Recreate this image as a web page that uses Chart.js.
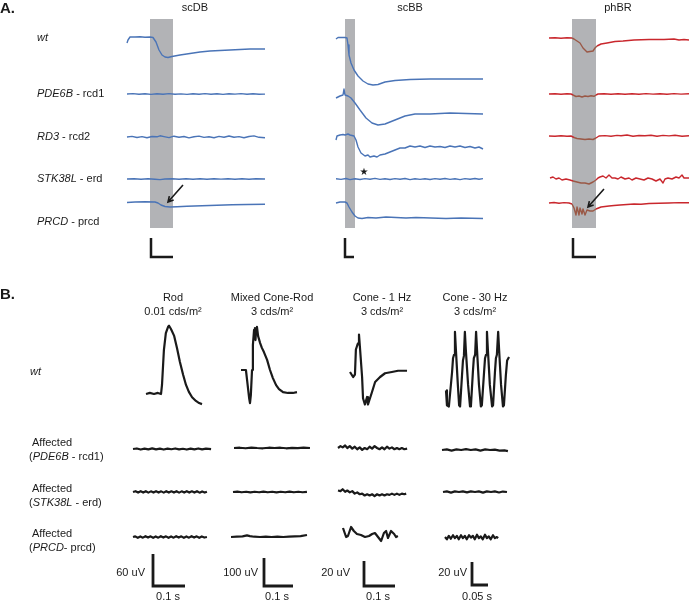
<!DOCTYPE html>
<html>
<head>
<meta charset="utf-8">
<script src="https://cdn.jsdelivr.net/npm/chart.js@4.4.0/dist/chart.umd.min.js"></script>
<style>
html,body{margin:0;padding:0;background:#fff;}
#wrap{width:689px;height:601px;}
</style>
</head>
<body>
<div id="wrap"><canvas id="myChart" width="689" height="601"></canvas></div>
<script>
// ---- panel A waveforms: [time, amplitude] (arbitrary units, 1 unit per px) ----
var scdbWt   = [[0,-5],[1,-2],[3,1],[8,1],[13,1.2],[18,0.8],[23,1],[26,0.5],[29,-4],[32,-12],[35,-17],[38,-19],[41,-19.5],[45,-18.5],[53,-17],[63,-15.5],[73,-14],[83,-13],[93,-12.5],[103,-12],[113,-11.5],[123,-11],[138,-11]];
var scdbRcd1 = [[0,0],[6,0.4],[12,-0.3],[18,0.3],[24,-0.4],[30,0.2],[36,-0.2],[42,0.4],[48,-0.3],[54,0.1],[60,-0.4],[66,0.3],[72,-0.2],[78,0.4],[84,-0.3],[90,0.2],[96,-0.4],[102,0.3],[108,-0.1],[114,0.4],[120,-0.3],[126,0.2],[132,-0.3],[138,-0.1]];
var scdbRcd2 = [[0,0],[5,0.6],[10,-0.5],[15,0.4],[20,-0.8],[25,0.5],[30,0.2],[33,1.2],[37,0.4],[42,-0.6],[47,0.8],[52,-0.2],[57,0.5],[62,-0.9],[67,0.3],[72,0.9],[77,-0.4],[82,0.2],[87,-0.7],[92,0.6],[97,-0.3],[102,1],[107,-0.2],[112,0.4],[117,-0.8],[122,0.5],[127,1.1],[132,-0.3],[138,-0.8]];
var scdbErd  = [[0,0],[7,0.3],[14,-0.2],[21,0.2],[28,-0.3],[33,-0.6],[38,0],[45,0.3],[52,-0.2],[59,0.2],[66,-0.3],[73,0.2],[80,-0.2],[87,0.3],[94,-0.1],[101,0.2],[108,-0.3],[115,0.2],[122,-0.2],[129,0.3],[138,0]];
var scdbPrcd = [[0,-0.5],[8,0],[18,0.3],[28,0],[31,-1],[34,-3],[38,-4.5],[43,-5],[50,-4.7],[60,-4.2],[75,-3.8],[90,-3.2],[105,-2.8],[120,-2.5],[138,-2.3]];

var scbbWt   = [[0,-1],[2,0.5],[9,0.5],[11,0],[12,-7],[13,-17],[15,-25],[18,-32],[22,-38],[27,-43],[32,-46],[37,-47],[42,-46.5],[49,-44],[59,-42.5],[74,-41.5],[94,-41],[124,-41],[147,-41]];
var scbbRcd1 = [[0,0],[4,2],[7,3],[8,9],[9,3],[12,2],[15,0],[19,-5],[24,-12],[30,-20],[36,-25],[42,-27],[49,-26],[59,-22],[69,-18],[79,-16],[94,-16],[114,-15],[130,-15.5],[147,-16]];
var scbbRcd2 = [[0,0],[1,4],[4,5],[7,5.5],[9,5],[12,6],[14,5],[18,4],[20,0],[22,-7],[25,-13],[29,-16],[32,-15],[34,-17],[38,-16],[41,-17],[44,-15],[49,-14],[54,-12],[59,-10],[64,-8],[69,-8],[74,-6],[79,-7],[84,-6],[89,-7.5],[94,-6],[99,-7],[104,-6.5],[109,-7.5],[114,-6],[119,-7],[124,-6],[129,-7.5],[134,-6.5],[139,-8],[143,-7],[147,-9]];
var scbbErd  = [[0,0.2],[5,-0.4],[10,0.5],[14,-0.6],[19,0.3],[24,-0.5],[29,0.4],[34,-0.3],[39,0.6],[44,-0.4],[49,0.2],[54,-0.5],[59,0.4],[64,-0.2],[69,0.5],[74,-0.6],[79,0.3],[84,-0.4],[89,0.2],[94,-0.5],[99,0.4],[104,-0.3],[109,0.5],[114,-0.4],[119,0.2],[124,-0.6],[129,0.4],[134,-0.3],[139,0.5],[143,-0.2],[147,0.4]];
var scbbPrcd = [[0,0],[4,1],[9,1],[11,0],[13,-4],[16,-9],[19,-13],[22,-15],[26,-15.5],[32,-14.5],[40,-15],[50,-14],[60,-14.5],[70,-15],[80,-14.5],[95,-15],[110,-15.5],[125,-15],[147,-15.5]];

var phbrWt   = [[0,0],[6,0.3],[12,-0.2],[18,0.2],[23,0],[25,-1],[28,-3],[31,-5],[34,-10],[36,-12],[38,-14],[41,-13.5],[44,-13],[46,-10],[48,-8],[52,-6],[58,-5],[66,-3.5],[74,-3],[85,-2],[100,-1.5],[115,-1.5],[125,-1],[130,-2],[135,-1.5],[140,-2]];
var phbrRcd1 = [[0,0],[6,0.3],[12,-0.3],[18,0.2],[22,0],[24,-1],[27,-2.5],[30,-2],[33,-3],[36,-2],[39,-2.5],[42,-1.8],[45,-2.3],[47,-1],[49,0],[55,0.3],[62,-0.2],[69,0.3],[76,-0.2],[83,0.2],[90,-0.3],[97,0.4],[104,-0.1],[111,0.3],[118,-0.2],[125,0.4],[132,-0.1],[140,0.2]];
var phbrRcd2 = [[0,0],[6,-0.3],[12,0.3],[18,-0.2],[22,0],[25,-1.5],[28,-2.5],[32,-3],[36,-3.5],[40,-3],[44,-3.5],[47,-2],[50,0],[56,0.4],[62,-0.3],[68,0.6],[72,0.2],[78,1],[84,-0.2],[90,0.5],[96,0.2],[102,0.8],[108,-0.3],[114,0.6],[120,0.1],[126,0.7],[133,-0.2],[140,0.3]];
var phbrErd  = [[1,1],[4,2],[7,0],[10,1],[13,-1],[17,0],[21,-1],[24,-2],[28,-3],[32,-4],[36,-4],[40,-5],[44,-3],[47,-1],[49,1],[51,2],[54,3],[57,1],[60,4],[63,1],[66,1],[69,0],[72,2],[76,0],[80,1],[83,-1],[87,1],[91,0],[95,-1],[99,1],[103,0],[107,-2],[111,0],[114,-4],[116,0],[119,1],[123,0],[127,2],[130,1],[133,4],[135,1],[140,1]];
var phbrPrcd = [[0,0],[5,0.5],[10,-0.3],[15,0.4],[20,0],[23,-1],[25,-5],[27,-12],[28,-4],[30,-12],[31,-5],[33,-11],[34,-6],[36,-12],[38,-7],[41,-8],[44,-8],[47,-6],[52,-4],[56,-3.5],[60,-3],[65,-2.5],[71,-2],[78,-1.5],[85,-1],[92,-1.2],[100,-0.5],[110,-0.3],[120,0],[130,0.4],[140,0.3]];

// ---- panel B waveforms: [ms, uV] ----
var rodWt    = [[0,0],[12,2],[25,0],[37,2],[47,0],[50,17],[56,83],[62,114],[69,126],[72,128],[78,122],[88,109],[97,86],[106,60],[116,36],[125,17],[134,4],[144,-6],[156,-13],[166,-17],[175,-19]];
var mixedWt  = [[0,0],[17,0],[21,-36],[28,-100],[31,-118],[34,-89],[38,0],[41,89],[45,143],[48,150],[50,107],[52,143],[55,154],[59,121],[66,96],[72,79],[79,64],[90,36],[100,0],[110,-29],[121,-54],[131,-68],[145,-79],[162,-82],[179,-82],[193,-79]];
var cone1Wt  = [[0,0],[10,-4],[16,-2],[19,18],[23,21],[26,23],[29,30],[32,20],[39,-4],[42,-21],[48,-26],[55,-20],[58,-26],[71,-16],[81,-8],[97,-4],[113,-1],[135,0],[155,1],[184,1]];
var cone30Wt = [[0,-16],[3,-29],[9,-30],[19,0],[22,12],[25,15],[28,35],[31,19],[37,-11],[41,-29],[44,-30],[50,-3],[53,10],[56,14],[59,35],[62,19],[69,-11],[75,-30],[78,-29],[84,0],[87,12],[91,15],[94,35],[97,19],[103,-11],[109,-30],[112,-29],[119,0],[122,12],[125,15],[128,35],[131,19],[137,-11],[144,-30],[147,-29],[153,0],[156,12],[159,15],[163,35],[166,19],[172,-11],[178,-30],[181,-29],[187,-3],[191,10],[197,13]];

var rodRcd1  = [[0,0],[12,1],[24,-1],[36,0.8],[48,-0.6],[60,1.2],[72,-0.8],[84,0.6],[96,-1],[108,0.8],[120,-0.5],[132,1],[144,-0.8],[156,0.5],[168,-1],[180,0.8],[192,-0.6],[204,1],[216,-0.8],[228,0.6],[244,-0.4]];
var rodErd   = [[0,0],[8,1.5],[16,-1],[24,1.5],[32,-1],[40,1.5],[48,-1.2],[56,1.2],[64,-1],[72,1.5],[80,-1],[88,1.2],[96,-1.2],[104,1.5],[112,-1],[120,1.2],[128,-1],[136,1.5],[144,-1.2],[152,1.2],[160,-1],[168,1.5],[176,-1],[184,1.2],[192,-1],[200,1.5],[208,-1.2],[216,1],[224,-1],[231,0.5]];
var rodPrcd  = [[0,0],[7,1.2],[15,-1.5],[23,1],[31,-1.2],[39,1.5],[47,-1],[55,1.2],[63,-1.5],[71,1],[79,-1.2],[87,1.5],[95,-1],[103,1.2],[111,-1.5],[119,1],[127,-1.2],[135,1.5],[143,-1],[151,1.2],[159,-1.5],[167,1],[175,-1.2],[183,1.5],[191,-1],[199,1.2],[207,-1.5],[215,1],[223,-1],[231,0]];
var mixedRcd1 = [[0,0],[20,1],[40,-1],[60,1.5],[80,0],[100,-1],[120,1],[140,0],[160,1],[180,-1],[200,0.5],[220,-0.5],[240,1],[262,0]];
var mixedErd  = [[0,0],[15,1.5],[30,-1],[45,1],[60,-1.5],[75,1],[90,-1],[105,1.5],[120,-1],[135,1],[150,-1.5],[165,1],[180,-1],[195,1.5],[210,-1],[225,1],[240,-1],[255,0.5]];
var mixedPrcd = [[0,0],[20,1],[40,2],[55,6],[65,3],[80,1],[100,0],[120,1],[140,0],[160,1],[180,0],[200,1],[220,2],[240,3],[262,7]];
var cone1Rcd1 = [[0,0],[8,1.5],[15,0.5],[23,2],[30,0],[38,1.5],[46,-0.5],[54,1],[62,-1],[70,0.5],[78,-1.5],[86,0],[94,-1],[102,1],[110,-0.5],[118,1.5],[126,0],[134,-1],[142,0.5],[150,-1],[158,1],[166,-0.5],[174,0.5],[182,-1],[190,0],[198,-1],[206,0],[214,-1],[223,-0.5]];
var cone1Erd  = [[0,2],[8,1.5],[15,3],[23,1],[30,2],[38,0.5],[46,1.5],[54,-0.5],[62,0.5],[70,-1],[78,-0.5],[86,-2],[94,-1],[102,-2],[110,-1],[118,-2.5],[126,-1],[134,-2],[142,-1],[150,-2],[158,-1],[166,-1.5],[174,-0.5],[182,-1.5],[190,-0.5],[198,-1.5],[206,-0.5],[214,-1],[220,-0.5]];
var cone1Prcd = [[0,5.6],[10,-1.6],[16,-0.8],[26,6.4],[35,3.2],[45,0.8],[58,0],[71,-1.6],[84,-0.8],[94,0.8],[103,1.6],[113,-1.6],[123,-4.8],[132,1.6],[139,3.2],[145,-2.4],[155,3.2],[165,0.8],[171,-1.6],[177,-0.8]];
var cone30Rcd1 = [[0,0],[15,0.5],[30,-0.5],[45,0.5],[60,0],[75,0.8],[90,0],[105,0.5],[120,-0.5],[135,0.5],[150,0],[165,0.3],[180,-0.5],[195,-0.3],[206,-1]];
var cone30Erd  = [[0,0],[12,0.5],[25,-0.5],[37,0.5],[50,0],[62,0.6],[75,-0.3],[87,0.5],[100,0],[112,0.5],[125,-0.5],[137,0.5],[150,0],[162,0.5],[175,-0.4],[187,0.4],[200,0]];
var cone30Prcd = [[0,0],[6,-2],[12,1],[18,-1.5],[25,1.5],[31,-1],[37,1],[43,-2],[50,1.5],[56,-1],[62,1],[68,-2],[75,1.5],[81,-0.5],[87,1],[93,-2],[100,2],[106,-1],[112,0.5],[118,-2],[125,2],[131,-1],[137,0.5],[143,-2],[150,1.5],[156,-1],[162,0],[166,-1]];

// scale bar sizes: [time, amplitude]
var scaleBarsA = [[22,19],[9,19],[23,19]];
var scaleBarsB = [[100,60],[100,100],[100,20],[50,20]];
var scaleBarLabelsB = [['60 uV','0.1 s'],['100 uV','0.1 s'],['20 uV','0.1 s'],['20 uV','0.05 s']];

// ---- layout ----
var blue = '#4a74b7', red = '#c9272d', brown = '#9a5846', grey = '#b2b3b6', ink = '#1a1a1a';
var fontFam = '"Liberation Sans", Arial, sans-serif';

var colsA = [
    {x0:127, bar:[150,173], waves:[scdbWt,scdbRcd1,scdbRcd2,scdbErd,scdbPrcd], ys:[38,94,137,179,202], sb:[151,257], color:blue},
    {x0:336, bar:[345,355], waves:[scbbWt,scbbRcd1,scbbRcd2,scbbErd,scbbPrcd], ys:[38,98,140,179,203], sb:[345,257], color:blue},
    {x0:549, bar:[572,596], waves:[phbrWt,phbrRcd1,phbrRcd2,phbrErd,phbrPrcd], ys:[38,94,136,179,203], sb:[573,257], color:red}
];
var barTop = 19, barBottom = 228;

var colsB = [
    {sx:0.32, sy:0.533, x0:[146,133,133,133], ys:[394,449,492,537], waves:[rodWt,rodRcd1,rodErd,rodPrcd], sb:[153,586]},
    {sx:0.29, sy:0.28,  x0:[241,234,233,231], ys:[370,448,492,537], waves:[mixedWt,mixedRcd1,mixedErd,mixedPrcd], sb:[264,586]},
    {sx:0.31, sy:1.25,  x0:[350,338,338,343], ys:[372,448,493,535], waves:[cone1Wt,cone1Rcd1,cone1Erd,cone1Prcd], sb:[364,586]},
    {sx:0.32, sy:1.15,  x0:[446,442,443,445], ys:[372,450,492,537], waves:[cone30Wt,cone30Rcd1,cone30Erd,cone30Prcd], sb:[472,585]}
];

function place(wave, x0, y0, sx, sy) {
    return wave.map(function(p){ return {x: x0 + p[0]*sx, y: y0 - p[1]*sy}; });
}

var datasets = [];
colsA.forEach(function(col){
    col.waves.forEach(function(w, i){
        var ds = {data: place(w, col.x0, col.ys[i], 1, 1), borderColor: col.color, borderWidth: 1.4};
        if (col.color == red) {
            var b = col.bar;
            ds.segment = {borderColor: function(c){
                var x = c.p0.parsed.x;
                return (x >= b[0] && x < b[1]) ? brown : red;
            }};
        }
        datasets.push(ds);
    });
    var s = scaleBarsA[colsA.indexOf(col)];
    datasets.push({data: [{x:col.sb[0], y:col.sb[1]-s[1]}, {x:col.sb[0], y:col.sb[1]}, {x:col.sb[0]+s[0], y:col.sb[1]}], borderColor: ink, borderWidth: 2.5, borderJoinStyle:'miter'});
});
colsB.forEach(function(col, k){
    col.waves.forEach(function(w, i){
        datasets.push({data: place(w, col.x0[i], col.ys[i], col.sx, col.sy), borderColor: ink, borderWidth: 2.2});
    });
    var s = scaleBarsB[k];
    datasets.push({data: [{x:col.sb[0], y:col.sb[1]-s[1]*col.sy}, {x:col.sb[0], y:col.sb[1]}, {x:col.sb[0]+s[0]*col.sx, y:col.sb[1]}], borderColor: ink, borderWidth: 2.8, borderJoinStyle:'miter'});
});

// text: [x, y, parts, align, size, weight]
var texts = [
    [0, 9, [['A.',0]], 'left', 15, 'bold'],
    [195, 8, [['scDB',0]], 'center', 11],
    [410, 8, [['scBB',0]], 'center', 11],
    [618, 8, [['phBR',0]], 'center', 11],
    [37, 38, [['wt',1]], 'left', 11],
    [37, 94, [['PDE6B',1],[' - rcd1',0]], 'left', 11],
    [37, 137, [['RD3',1],[' - rcd2',0]], 'left', 11],
    [37, 179, [['STK38L',1],[' - erd',0]], 'left', 11],
    [37, 222, [['PRCD',1],[' - prcd',0]], 'left', 11],
    [0, 295, [['B.',0]], 'left', 15, 'bold'],
    [173, 298, [['Rod',0]], 'center', 11],
    [173, 312, [['0.01 cds/m\u00b2',0]], 'center', 11],
    [272, 298, [['Mixed Cone-Rod',0]], 'center', 11],
    [272, 312, [['3 cds/m\u00b2',0]], 'center', 11],
    [382, 298, [['Cone - 1 Hz',0]], 'center', 11],
    [382, 312, [['3 cds/m\u00b2',0]], 'center', 11],
    [475, 298, [['Cone - 30 Hz',0]], 'center', 11],
    [475, 312, [['3 cds/m\u00b2',0]], 'center', 11],
    [30, 372, [['wt',1]], 'left', 11],
    [32, 443, [['Affected',0]], 'left', 11],
    [29, 457, [['(',0],['PDE6B',1],[' - rcd1)',0]], 'left', 11],
    [32, 489, [['Affected',0]], 'left', 11],
    [29, 503, [['(',0],['STK38L',1],[' - erd)',0]], 'left', 11],
    [32, 534, [['Affected',0]], 'left', 11],
    [29, 548, [['(',0],['PRCD',1],['- prcd)',0]], 'left', 11]
];
var labelOffsB = [[-8,168],[-6,277],[-14,378],[-5,477]];
colsB.forEach(function(col, k){
    texts.push([col.sb[0]+labelOffsB[k][0], 573, [[scaleBarLabelsB[k][0],0]], 'right', 11]);
    texts.push([labelOffsB[k][1], 597, [[scaleBarLabelsB[k][1],0]], 'center', 11]);
});
var arrows = [[183,185,168,202],[604,189,588,207]];
var stars = [[364,172]];

var decor = {
    id: 'decor',
    beforeDatasetsDraw: function(chart){
        var c = chart.ctx, xs = chart.scales.x, ys = chart.scales.y;
        c.save();
        c.fillStyle = grey;
        colsA.forEach(function(col){
            var l = xs.getPixelForValue(col.bar[0]), r = xs.getPixelForValue(col.bar[1]);
            var t = ys.getPixelForValue(barTop), b = ys.getPixelForValue(barBottom);
            c.fillRect(l, t, r-l, b-t);
        });
        c.restore();
    },
    afterDraw: function(chart){
        var c = chart.ctx, xs = chart.scales.x, ys = chart.scales.y;
        c.save();
        c.fillStyle = ink;
        c.textBaseline = 'middle';
        texts.forEach(function(t){
            var size = t[4], weight = t[5] || 'normal';
            var fonts = t[2].map(function(p){ return (p[1] ? 'italic ' : '') + weight + ' ' + size + 'px ' + fontFam; });
            var w = 0;
            t[2].forEach(function(p, i){ c.font = fonts[i]; w += c.measureText(p[0]).width; });
            var x = xs.getPixelForValue(t[0]);
            if (t[3] == 'center') x -= w/2;
            if (t[3] == 'right') x -= w;
            c.textAlign = 'left';
            t[2].forEach(function(p, i){
                c.font = fonts[i];
                c.fillText(p[0], x, ys.getPixelForValue(t[1]));
                x += c.measureText(p[0]).width;
            });
        });
        // arrows
        c.strokeStyle = ink;
        c.lineWidth = 1.6;
        arrows.forEach(function(a){
            var x1 = xs.getPixelForValue(a[0]), y1 = ys.getPixelForValue(a[1]);
            var x2 = xs.getPixelForValue(a[2]), y2 = ys.getPixelForValue(a[3]);
            var ang = Math.atan2(y2-y1, x2-x1), h = 6;
            c.beginPath();
            c.moveTo(x1, y1); c.lineTo(x2, y2);
            c.moveTo(x2 - h*Math.cos(ang-0.5), y2 - h*Math.sin(ang-0.5));
            c.lineTo(x2, y2);
            c.lineTo(x2 - h*Math.cos(ang+0.5), y2 - h*Math.sin(ang+0.5));
            c.stroke();
        });
        c.font = '10px "DejaVu Sans"';
        c.textAlign = 'center';
        stars.forEach(function(s){ c.fillText('\u2605', xs.getPixelForValue(s[0]), ys.getPixelForValue(s[1])); });
        c.restore();
    }
};

var ctx = document.getElementById('myChart').getContext('2d');
var myChart = new Chart(ctx, {
    type: 'line',
    data: {datasets: datasets},
    options: {
        responsive: false,
        animation: false,
        parsing: true,
        layout: {padding: 0},
        elements: {point: {radius: 0}, line: {tension: 0, borderJoinStyle: 'round', borderCapStyle: 'butt'}},
        plugins: {legend: {display: false}, tooltip: {enabled: false}},
        scales: {
            x: {type: 'linear', min: 0, max: 689, display: false},
            y: {type: 'linear', min: 0, max: 601, reverse: true, display: false}
        }
    },
    plugins: [decor]
});
</script>
</body>
</html>
